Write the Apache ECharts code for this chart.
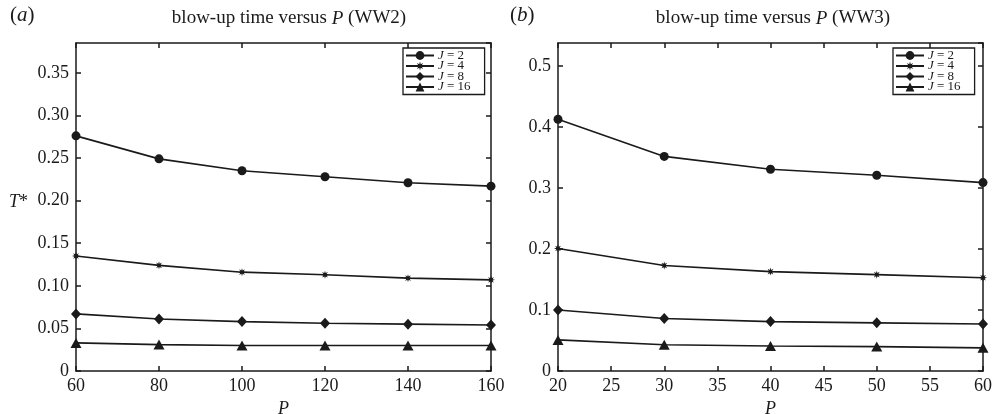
<!DOCTYPE html>
<html><head><meta charset="utf-8">
<script src="https://cdn.jsdelivr.net/npm/echarts@6/dist/echarts.min.js"></script>
<style>html,body{margin:0;padding:0;background:#fff}#c{width:993px;height:414px}</style>
</head><body><div id="c"></div>
<script>
const xA = [60, 80, 100, 120, 140, 160];
const aJ2 = [0.276, 0.249, 0.235, 0.228, 0.221, 0.217];
const aJ4 = [0.135, 0.124, 0.116, 0.113, 0.109, 0.107];
const aJ8 = [0.067, 0.061, 0.058, 0.056, 0.055, 0.054];
const aJ16 = [0.033, 0.031, 0.030, 0.030, 0.030, 0.030];
const xB = [20, 30, 40, 50, 60];
const bJ2 = [0.413, 0.352, 0.331, 0.321, 0.309];
const bJ4 = [0.201, 0.173, 0.163, 0.158, 0.153];
const bJ8 = [0.100, 0.086, 0.081, 0.079, 0.077];
const bJ16 = [0.051, 0.043, 0.041, 0.040, 0.038];
const seriesNames = ['J = 2', 'J = 4', 'J = 8', 'J = 16'];
const ticksA = [60, 160, 20];
const ticksB = [20, 60, 5];

const FONT = '"Liberation Serif", "DejaVu Serif", serif';
const INK = '#1a1a1a';

function starPath() {
  let p = '';
  for (let i = 0; i < 16; i++) {
    const r = i % 2 === 0 ? 1 : 0.45;
    const a = Math.PI * i / 8 - Math.PI / 2;
    p += (i === 0 ? 'M' : 'L') + (r * Math.cos(a)).toFixed(3) + ',' + (r * Math.sin(a)).toFixed(3) + ' ';
  }
  return 'path://' + p + 'Z';
}
const symbols = ['circle', starPath(), 'diamond', 'triangle'];
const sizes = [9, 8, [10, 11], [11, 10]];

const chart = echarts.init(document.getElementById('c'), null, {renderer: 'canvas'});

function pair(xs, ys) { return xs.map((x, i) => [x, ys[i]]); }

const grids = [
  {left: 76, right: 502, top: 43, bottom: 43, containLabel: false, outerBoundsMode: 'none'},
  {left: 558, right: 10, top: 43, bottom: 43, containLabel: false, outerBoundsMode: 'none'}
];

const labelStyle = {fontFamily: FONT, fontSize: 18, color: INK};
const lineStyle = {color: INK, width: 1.5};

function xAxes(gi, r) {
  return [
    {type: 'value', gridIndex: gi, min: r[0], max: r[1], interval: r[2], position: 'bottom',
     axisLine: {show: true, onZero: false, lineStyle}, axisTick: {inside: true, length: 5, lineStyle},
     axisLabel: Object.assign({margin: 6}, labelStyle), splitLine: {show: false},
     name: '{i|P}', nameLocation: 'middle', nameGap: 27,
     nameTextStyle: {rich: {i: {fontFamily: FONT, fontSize: 18, fontStyle: 'italic', color: INK}}}},
    {type: 'value', gridIndex: gi, min: r[0], max: r[1], interval: r[2], position: 'top',
     axisLine: {show: true, onZero: false, lineStyle}, axisTick: {inside: true, length: 5, lineStyle},
     axisLabel: {show: false}, splitLine: {show: false}}
  ];
}
function yAxes(gi, max, interval, fmt) {
  const f = v => {
    const k = v / interval;
    if (Math.abs(k - Math.round(k)) > 1e-6) return '';
    return v === 0 ? '0' : fmt(v);
  };
  return [
    {type: 'value', gridIndex: gi, min: 0, max: max, interval: interval, position: 'left',
     axisLine: {show: true, onZero: false, lineStyle}, axisTick: {inside: true, length: 5, lineStyle},
     axisLabel: Object.assign({margin: 7, formatter: f, showMaxLabel: false}, labelStyle), splitLine: {show: false}},
    {type: 'value', gridIndex: gi, min: 0, max: max, interval: interval, position: 'right',
     axisLine: {show: true, onZero: false, lineStyle}, axisTick: {inside: true, length: 5, lineStyle},
     axisLabel: {show: false}, splitLine: {show: false}}
  ];
}

const dataA = [aJ2, aJ4, aJ8, aJ16];
const dataB = [bJ2, bJ4, bJ8, bJ16];
const series = [];
dataA.forEach((d, i) => series.push({
  name: seriesNames[i], type: 'line', xAxisIndex: 0, yAxisIndex: 0, data: pair(xA, d),
  symbol: symbols[i], symbolSize: sizes[i], showAllSymbol: true,
  lineStyle: {color: INK, width: 1.6}, itemStyle: {color: INK}, z: 3
}));
dataB.forEach((d, i) => series.push({
  name: seriesNames[i], type: 'line', xAxisIndex: 2, yAxisIndex: 2, data: pair(xB, d),
  symbol: symbols[i], symbolSize: sizes[i], showAllSymbol: true,
  lineStyle: {color: INK, width: 1.6}, itemStyle: {color: INK}, z: 3
}));

const legendBase = {
  orient: 'vertical', top: 48, itemWidth: 28, itemHeight: 11, itemGap: -2.5,
  padding: [1, 14, 1, 2], borderColor: INK, borderWidth: 1.3, backgroundColor: '#fff',
  selectedMode: false, data: seriesNames,
  formatter: n => '{i|J}{n|' + n.slice(1) + '}',
  textStyle: {lineHeight: 10, padding: [0, 0, 0, -1], rich: {
    i: {fontFamily: FONT, fontSize: 13, fontStyle: 'italic', color: INK, lineHeight: 10},
    n: {fontFamily: FONT, fontSize: 13, color: INK, lineHeight: 10}
  }}
};

const titleRich = {
  n: {fontFamily: FONT, fontSize: 19, fontWeight: 'normal', color: INK},
  i: {fontFamily: FONT, fontSize: 19, fontWeight: 'normal', fontStyle: 'italic', color: INK}
};

chart.setOption({
  animation: false,
  backgroundColor: '#fff',
  title: [
    {text: '{n|blow-up time versus }{i|P}{n| (WW2)}', left: 284, top: 4, textAlign: 'center', textStyle: {fontWeight: 'normal', rich: titleRich}},
    {text: '{n|blow-up time versus }{i|P}{n| (WW3)}', left: 768, top: 4, textAlign: 'center', textStyle: {fontWeight: 'normal', rich: titleRich}}
  ],
  grid: grids,
  xAxis: [...xAxes(0, ticksA), ...xAxes(1, ticksB)],
  yAxis: [...yAxes(0, 0.385, 0.05, v => v.toFixed(2)), ...yAxes(1, 0.538, 0.1, v => v.toFixed(1))],
  legend: [
    Object.assign({}, legendBase, {left: 403}),
    Object.assign({}, legendBase, {left: 893})
  ],
  series: series,
  graphic: [
    {type: 'text', left: 10, top: 5, style: {text: '({i|a})', rich: {i: {fontFamily: FONT, fontSize: 21, fontStyle: 'italic', fill: INK}}, font: '21px ' + FONT, fill: INK}},
    {type: 'text', left: 510, top: 5, style: {text: '({i|b})', rich: {i: {fontFamily: FONT, fontSize: 21, fontStyle: 'italic', fill: INK}}, font: '21px ' + FONT, fill: INK}},
    {type: 'text', left: 9, top: 193, style: {text: '{i|T}*', rich: {i: {fontFamily: FONT, fontSize: 18, fontStyle: 'italic', fill: INK}}, font: '18px ' + FONT, fill: INK}}
  ]
});
</script></body></html>
